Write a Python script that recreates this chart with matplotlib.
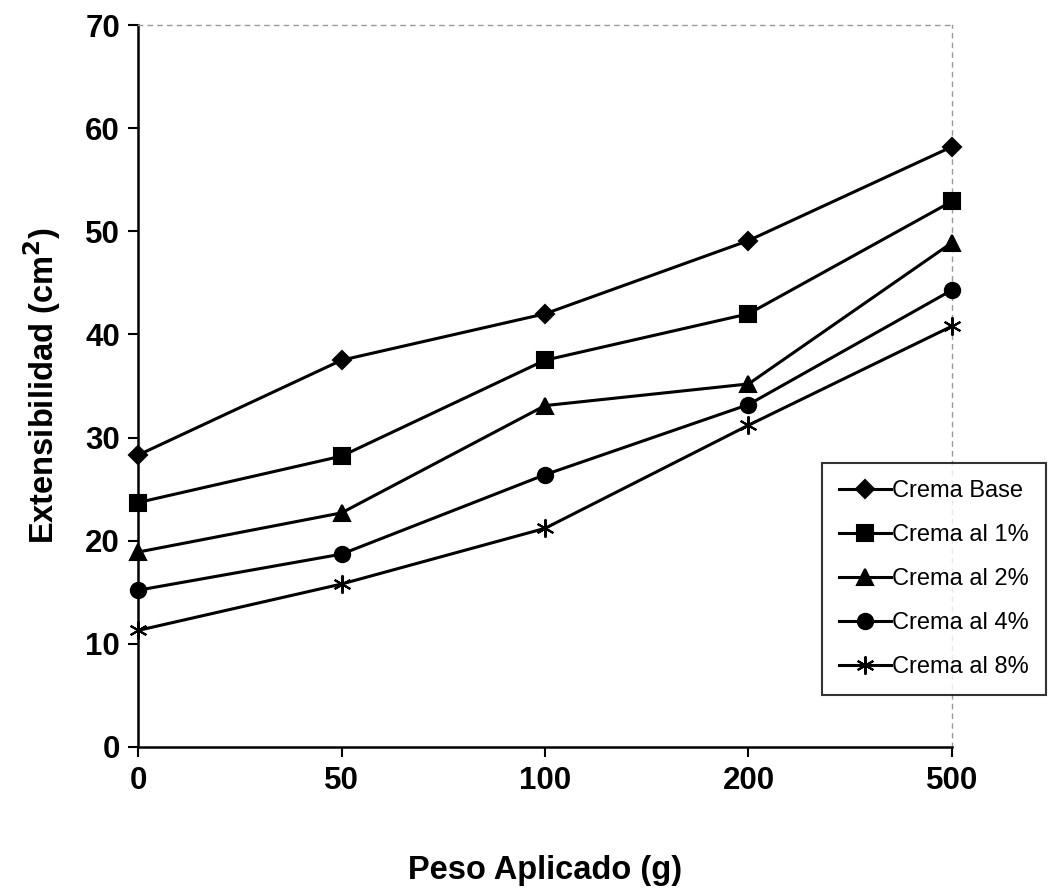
import matplotlib
matplotlib.use('Agg')
import numpy as np
import matplotlib.pyplot as plt

plt.rcParams['font.family'] = ['Liberation Sans', 'DejaVu Sans']

# data
pesos = ['0', '50', '100', '200', '500']
crema_base = [28.3, 37.5, 42.0, 49.1, 58.2]
crema_1 = [23.7, 28.2, 37.5, 42.0, 52.9]
crema_2 = [18.9, 22.7, 33.1, 35.2, 48.9]
crema_4 = [15.2, 18.7, 26.4, 33.2, 44.3]
crema_8 = [11.3, 15.8, 21.2, 31.2, 40.8]

series = [
    ('Crema Base', crema_base, 'D', 9),
    ('Crema al 1%', crema_1, 's', 11),
    ('Crema al 2%', crema_2, '^', 11),
    ('Crema al 4%', crema_4, 'o', 11),
    ('Crema al 8%', crema_8, (6, 2, 0), 13),
]

fig = plt.figure(figsize=(10.49, 8.93), dpi=100)
ax = fig.add_axes([0.1316, 0.1635, 0.7759, 0.8085])

x = np.arange(len(pesos))
for name, vals, mk, ms in series:
    ax.plot(x, vals, color='black', lw=2.2, marker=mk, ms=ms,
            mec='black', mfc='black', mew=1.5, label=name, clip_on=False,
            zorder=4)

ax.set_xlim(0, len(pesos) - 1)
ax.set_ylim(0, 70)
ax.set_xticks(x)
ax.set_xticklabels(pesos)
ax.set_yticks(np.arange(0, 71, 10))
ax.tick_params(axis='both', direction='out', length=7, width=1.5,
               labelsize=22.5, pad=7)
ax.tick_params(axis='y', pad=6)
for t in ax.get_xticklabels() + ax.get_yticklabels():
    t.set_fontweight('bold')

for s in ['left', 'bottom']:
    ax.spines[s].set_linewidth(1.8)
for s in ['top', 'right']:
    ax.spines[s].set_color('#999999')
    ax.spines[s].set_linestyle((0, (3, 4)))
    ax.spines[s].set_linewidth(1.0)

ax.set_ylabel('Extensibilidad (cm$^\\mathbf{2}$)', fontsize=23.5, fontweight='bold', labelpad=16)
ax.set_xlabel('Peso Aplicado (g)', fontsize=23.5, fontweight='bold', labelpad=42)

leg = ax.legend(loc='upper left', bbox_to_anchor=(0.7836, 0.4815),
                bbox_transform=fig.transFigure, fontsize=17, frameon=True,
                fancybox=False, edgecolor='black', labelspacing=0.93,
                handlelength=2.2, handletextpad=0.05, borderpad=0.72,
                borderaxespad=0)
leg.get_frame().set_linewidth(1.5)

fig.savefig('out.png', dpi=100)
